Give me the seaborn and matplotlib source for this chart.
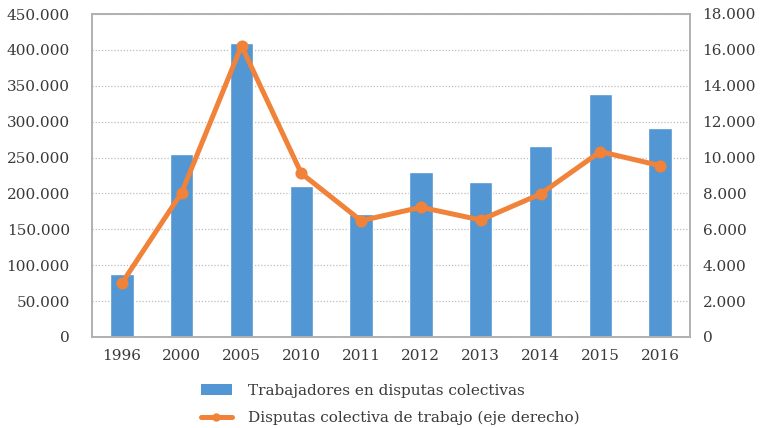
import matplotlib
matplotlib.use("Agg")
import matplotlib.pyplot as plt
import seaborn as sns
import pandas as pd
from matplotlib.ticker import FuncFormatter
from matplotlib.lines import Line2D
from matplotlib.patches import Patch

years = ["1996", "2000", "2005", "2010", "2011", "2012", "2013", "2014", "2015", "2016"]
workers = [88000, 255000, 410000, 210000, 171000, 230000, 216000, 266000, 339000, 291000]
disputes = [3000, 8050, 16230, 9120, 6480, 7230, 6520, 7970, 10330, 9550]
bar_label = "Trabajadores en disputas colectivas"
line_label = "Disputas colectiva de trabajo (eje derecho)"

sns.set_theme(style="white")
plt.rcParams["font.family"] = ["DejaVu Serif", "Liberation Serif"]

blue = "#5296D3"
orange = "#F0823A"
text_c = "#3A3A3A"
grid_c = "#BDBDBD"
frame_c = "#B0B0B0"
fs = 11

df = pd.DataFrame({"year": years, "workers": workers, "disputes": disputes})

fig = plt.figure(figsize=(7.6, 4.28), dpi=100)
ax = fig.add_axes([92/760, 1-337/428, (690-92)/760, (337-14)/428])

sns.barplot(data=df, x="year", y="workers", color=blue, width=0.39,
            saturation=1, ax=ax, zorder=2)
ax.set_ylim(0, 450000)
ax.set_yticks(range(0, 450001, 50000))
fmt = FuncFormatter(lambda v, p: f"{int(v):,}".replace(",", "."))
ax.yaxis.set_major_formatter(fmt)
ax.set_xlabel("")
ax.set_ylabel("")
ax.yaxis.grid(True, linestyle=(0, (1, 1.5)), color=grid_c, linewidth=0.9, zorder=0)
ax.set_axisbelow(True)

ax2 = ax.twinx()
sns.pointplot(data=df, x="year", y="disputes", color=orange, markers="o",
              linewidth=3.6, markersize=6, ax=ax2, errorbar=None)
ax2.set_ylim(0, 18000)
ax2.set_yticks(range(0, 18001, 2000))
ax2.yaxis.set_major_formatter(fmt)
ax2.set_xlabel("")
ax2.set_ylabel("")
ax.set_xlim(-0.5, 9.5)

for a in (ax, ax2):
    for s in a.spines.values():
        s.set_color(frame_c)
        s.set_linewidth(1.2)
    a.tick_params(axis="both", length=0, labelsize=fs, labelcolor=text_c)
ax.tick_params(axis="y", pad=16)
ax2.tick_params(axis="y", pad=9)
ax.tick_params(axis="x", pad=9)

handles = [Patch(facecolor=blue, edgecolor="none"),
           Line2D([0], [0], color=orange, linewidth=3.6, marker="o", markersize=5)]
fig.legend(handles, [bar_label, line_label], loc="upper left",
           bbox_to_anchor=(195/760, 1-378/428), frameon=False, fontsize=fs,
           handlelength=2.0, handletextpad=1.1, labelspacing=0.83,
           labelcolor=text_c, borderaxespad=0)

fig.savefig("out.png", dpi=100)
